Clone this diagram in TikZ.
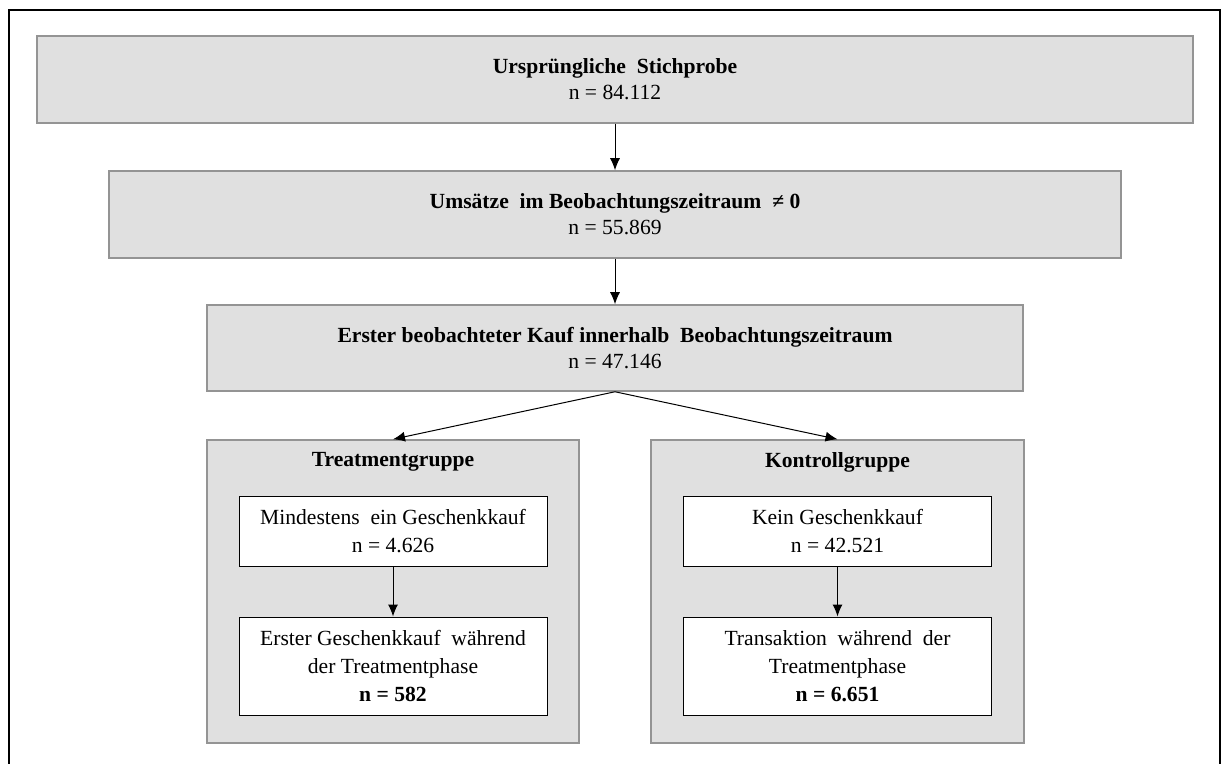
\documentclass[tikz,border=0pt]{standalone}
\usepackage{fontspec}
\setmainfont{Liberation Serif}
\usetikzlibrary{arrows.meta}

\begin{document}
\begin{tikzpicture}[x=0.5pt,y=-0.5pt,
   every node/.style={font=\fontsize{10.8}{13}\selectfont,align=center,inner sep=0pt},
   graubox/.style={draw=black!42,line width=0.75pt,fill=black!12},
   weissbox/.style={draw=black,line width=0.5pt,fill=white,font=\fontsize{10.8}{14}\selectfont},
   pfeil/.style={-{Latex[length=6pt,width=5pt]},line width=0.5pt}]
         \useasboundingbox (0,0) rectangle (1224,764) ;
         % Rahmen (unten offen)
         \draw[line width=1pt] (9,764) -- (9,10) -- (1220,10) -- (1220,764) ;
         % Stichprobe
         \node[graubox,minimum width=578pt,minimum height=43.5pt] (stich) at (615,79.5)
         {\textbf{Ursprüngliche\ \ Stichprobe}\\n = 84.112} ;
         \node[graubox,minimum width=506pt,minimum height=43.5pt] (umsatz) at (615,214.5)
         {\textbf{Umsätze\ \ im Beobachtungszeitraum\ \ ≠ 0}\\n = 55.869} ;
         \node[graubox,minimum width=408pt,minimum height=43pt] (kauf) at (615,348)
         {\textbf{Erster beobachteter Kauf innerhalb\ \ Beobachtungszeitraum}\\n = 47.146} ;
         % Gruppen
         \node[graubox,minimum width=186pt,minimum height=151.5pt] (treat) at (393,591.5) {} ;
         \node[graubox,minimum width=186.5pt,minimum height=151.5pt] (kontr) at (837.5,591.5) {} ;
         \node (treattitel) at (393,462) {\textbf{Treatmentgruppe}} ;
         \node (kontrtitel) at (837.5,462) {\textbf{Kontrollgruppe}} ;
         \node[weissbox,minimum width=154pt,minimum height=35pt] (treat1) at (393,531)
         {Mindestens\ \ ein\ Geschenkkauf\\n = 4.626} ;
         \node[weissbox,minimum width=154pt,minimum height=49pt] (treat2) at (393,666)
         {Erster\ Geschenkkauf\ \ während\\der Treatmentphase\\\textbf{n = 582}} ;
         \node[weissbox,minimum width=154pt,minimum height=35pt] (kontr1) at (837.5,531)
         {Kein Geschenkkauf\\n = 42.521} ;
         \node[weissbox,minimum width=154pt,minimum height=49pt] (kontr2) at (837.5,666)
         {Transaktion\ \ während\ \ der\\Treatmentphase\\\textbf{n = 6.651}} ;
         % Pfeile
         \draw[pfeil] (stich) -- (umsatz) ;
         \draw[pfeil] (umsatz) -- (kauf) ;
         \draw[pfeil] (kauf.south) -- (treat.north) ;
         \draw[pfeil] (kauf.south) -- (kontr.north) ;
         \draw[pfeil] (treat1) -- (treat2) ;
         \draw[pfeil] (kontr1) -- (kontr2) ;
      \end{tikzpicture}
\end{document}
